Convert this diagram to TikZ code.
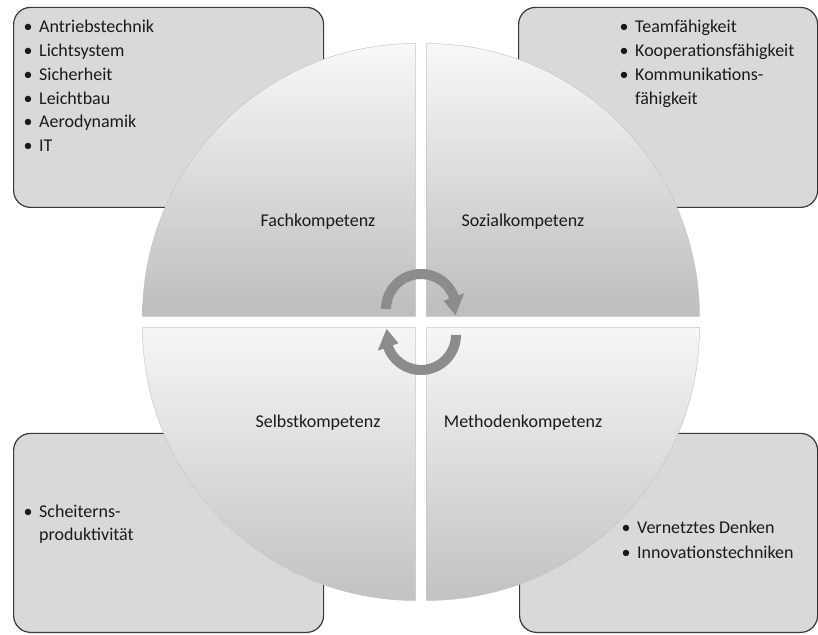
\documentclass[tikz,border=0pt]{standalone}
\usepackage{fontspec}
\setmainfont{Carlito}
\usetikzlibrary{calc}
\definecolor{boxfill}{HTML}{D9D9D9}
\definecolor{boxline}{HTML}{3A3A3A}
\definecolor{qtop}{HTML}{F8F8F8}
\definecolor{qbot}{HTML}{BDBDBD}
\definecolor{qtopb}{HTML}{F6F6F6}
\definecolor{qbotb}{HTML}{C2C2C2}
\definecolor{arrowgray}{HTML}{8C8C8C}
\definecolor{txt}{HTML}{1A1A1A}
\newcommand\bulletdot{\makebox[0pt][r]{\makebox[0pt][c]{•}\hspace{11pt}}}
\begin{document}
\begin{tikzpicture}[x=1pt,y=1pt,
  cornerbox/.style={draw=boxline,line width=1.2pt,fill=boxfill,rounded corners=17pt,anchor=south west,inner sep=0pt},
  toppiece/.style={top color=qtop,bottom color=qbot,draw=black!22,line width=0.5pt},
  botpiece/.style={top color=qtopb,bottom color=qbotb,draw=black!22,line width=0.5pt},
  cyclearrow/.style={fill=arrowgray},
  listtext/.style={anchor=base west,inner sep=0pt,font=\fontsize{18}{22}\selectfont,text=txt},
  quadlabel/.style={anchor=center,inner sep=0pt,font=\fontsize{18}{22}\selectfont,text=txt}]

\fill[white] (0,0) rectangle (818,634);
\useasboundingbox (0,0) rectangle (818,634);

% corner boxes
\node[cornerbox,minimum width=310pt,minimum height=200pt] (boxTL) at (13,426) {};
\node[cornerbox,minimum width=299pt,minimum height=200pt] (boxTR) at (518,426) {};
\node[cornerbox,minimum width=310pt,minimum height=199pt] (boxBL) at (13,1) {};
\node[cornerbox,minimum width=298pt,minimum height=199pt] (boxBR) at (519,1) {};

% circle quadrants
\path[toppiece] (415.5,317.5) -- (142.5,317.5) arc[start angle=180,end angle=90,radius=273pt] -- cycle;
\path[toppiece] (426.5,317.5) -- (426.5,590.5) arc[start angle=90,end angle=0,radius=273pt] -- cycle;
\path[botpiece] (415.5,306.5) -- (142.5,306.5) arc[start angle=180,end angle=270,radius=273pt] -- cycle;
\path[botpiece] (426.5,306.5) -- (699.5,306.5) arc[start angle=0,end angle=-90,radius=273pt] -- cycle;

% cycle arrows
\coordinate (arcT) at (421,325);
\coordinate (arcB) at (421,299);
\fill[cyclearrow] ($(arcT)+(180:40pt)$) arc[start angle=180,end angle=20,radius=40pt]
  -- ($(arcT)+(20:46pt)$) -- ($(arcT)+(-10:35pt)$) -- ($(arcT)+(20:24pt)$)
  -- ($(arcT)+(20:30pt)$) arc[start angle=20,end angle=180,radius=30pt] -- cycle;
\fill[cyclearrow] ($(arcB)+(0:40pt)$) arc[start angle=0,end angle=-160,radius=40pt]
  -- ($(arcB)+(-160:46pt)$) -- ($(arcB)+(-190:35pt)$) -- ($(arcB)+(-160:24pt)$)
  -- ($(arcB)+(-160:30pt)$) arc[start angle=-160,end angle=0,radius=30pt] -- cycle;

% quadrant labels
\node[quadlabel] (fach) at (318,412) {Fachkompetenz};
\node[quadlabel] (sozial) at (523,412) {Sozialkompetenz};
\node[quadlabel] (selbst) at (318,211) {Selbstkompetenz};
\node[quadlabel] (methoden) at (523,211) {Methodenkompetenz};

% top-left list
\node[listtext] (tl1) at (39,601) {\bulletdot Antriebstechnik};
\node[listtext] (tl2) at (39,577.3) {\bulletdot Lichtsystem};
\node[listtext] (tl3) at (39,553.6) {\bulletdot Sicherheit};
\node[listtext] (tl4) at (39,529.9) {\bulletdot Leichtbau};
\node[listtext] (tl5) at (39,506.2) {\bulletdot Aerodynamik};
\node[listtext] (tl6) at (39,482.5) {\bulletdot IT};

% top-right list
\node[listtext] (tr1) at (635,601) {\bulletdot Teamfähigkeit};
\node[listtext] (tr2) at (635,577.3) {\bulletdot Kooperationsfähigkeit};
\node[listtext] (tr3) at (635,553.6) {\bulletdot Kommunikations-};
\node[listtext] (tr4) at (635,529.9) {fähigkeit};

% bottom-left list
\node[listtext] (bl1) at (39,117) {\bulletdot Scheiterns-};
\node[listtext] (bl2) at (39,94) {produktivität};

% bottom-right list
\node[listtext] (br1) at (637,100) {\bulletdot Vernetztes Denken};
\node[listtext] (br2) at (637,76) {\bulletdot Innovationstechniken};
\end{tikzpicture}
\end{document}
